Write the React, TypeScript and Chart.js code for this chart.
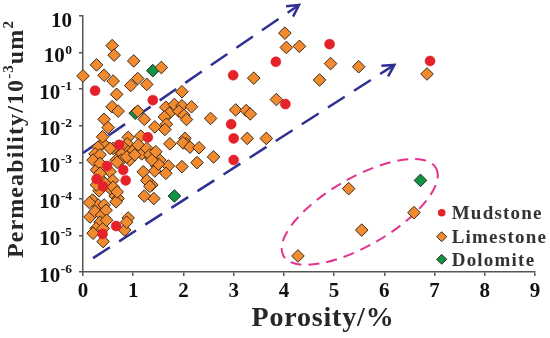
import React, { useEffect, useRef } from 'react';
import { Chart, registerables } from 'chart.js';
Chart.register(...registerables);

// ---------- data ----------
const mudstoneX = [0.24, 0.72, 0.48, 0.27, 0.40, 0.80, 0.85, 0.66, 0.39, 1.39, 1.29, 2.99, 2.95, 3.00, 3.00, 3.84, 4.03, 4.91, 6.91];
const mudstoneY = [9.1e-2, 3.0e-3, 7.9e-4, 3.5e-4, 2.2e-4, 6.2e-4, 3.2e-4, 1.8e-5, 1.1e-5, 5.0e-2, 4.8e-3, 0.24, 1.1e-2, 4.5e-3, 1.15e-3, 0.56, 3.9e-2, 1.7, 0.59];

const dolomiteX = [1.04, 1.39, 1.82, 6.72];
const dolomiteY = [2.2e-2, 0.32, 1.2e-4, 3.2e-4];

const limestoneX = [
  0.00, 0.58, 0.62, 0.27, 0.42, 0.60, 0.67, 0.58, 0.70, 0.42,
  0.50, 1.01, 1.56, 1.09, 0.95, 1.27, 1.97, 1.65, 1.82, 1.97,
  2.16, 1.72, 1.91, 2.01, 1.62, 2.06, 1.66, 1.22, 1.43, 1.63,
  2.54, 3.04, 1.15, 0.90, 2.03, 1.09, 1.73, 2.06, 4.02, 4.05,
  4.31, 3.40, 3.85, 4.93, 4.71, 5.49, 3.25, 3.33, 3.27, 3.65,
  6.85, 1.99, 2.13, 2.31, 2.60, 2.27, 1.97, 1.70, 1.65, 1.47,
  1.43, 1.35, 1.37, 1.53, 1.50, 1.41, 5.29, 6.59, 5.55, 4.28,
  0.40, 0.30, 0.24, 0.34, 0.88, 0.80, 0.90, 0.77, 0.60, 0.66,
  0.76, 0.93, 1.00, 1.10, 1.17, 1.27, 1.33, 1.37, 1.45, 1.20,
  1.27, 1.33, 1.22, 0.20, 0.27, 0.34, 0.54, 0.59, 0.34, 0.44,
  0.57, 0.64, 0.70, 0.66, 0.19, 0.30, 0.42, 0.14, 0.24, 0.37,
  0.46, 0.34, 0.26, 0.20, 0.40, 0.47, 0.90, 0.83, 0.40, 0.13,
  0.32, 0.27, 0.34, 0.60, 0.68, 0.39, 0.54, 0.68, 0.87, 1.03,
  0.87,
];
const limestoneY = [
  0.23, 1.55, 0.85, 0.46, 0.24, 0.166, 0.072, 0.033, 0.025, 0.015,
  0.0089, 0.59, 0.39, 0.195, 0.126, 0.135, 0.085, 0.032, 0.038, 0.035,
  0.033, 0.022, 0.025, 0.0195, 0.0174, 0.0148, 0.011, 0.015, 0.0093, 0.0079,
  0.0158, 0.027, 0.0052, 0.0048, 0.0045, 0.025, 0.0032, 0.0032, 3.4, 1.38,
  1.48, 0.20, 0.052, 0.50, 0.178, 0.41, 0.026, 0.021, 0.0045, 0.0045,
  0.26, 0.0034, 0.0026, 0.0025, 0.0014, 0.00098, 0.00076, 0.00079, 0.0005, 0.00079,
  0.00058, 0.0013, 0.00024, 0.00115, 0.00089, 0.000102, 1.9e-4, 4.2e-5, 1.4e-5, 2.75e-6,
  0.0033, 0.0026, 0.0017, 0.0016, 0.0032, 0.0026, 0.00195, 0.0017, 0.0024, 0.00115,
  0.00115, 0.00115, 0.0021, 0.003, 0.0017, 0.0024, 0.0016, 0.00115, 0.00195, 0.00055,
  0.00032, 0.00022, 0.00012, 0.00115, 0.00062, 0.00093, 0.00055, 0.00032, 0.00036, 0.00026,
  0.000174, 0.00012, 0.000102, 8.3e-5, 9.3e-5, 6.8e-5, 6.8e-5, 3.2e-5, 4.5e-5, 3.6e-5,
  4.9e-5, 2.3e-5, 1.55e-5, 1.15e-5, 1.55e-5, 2.6e-5, 3.0e-5, 1.4e-5, 6.8e-6, 7.9e-5,
  1.66e-4, 2.4e-4, 5.0e-4, 2.1e-4, 1.55e-4, 0.005, 0.0024, 0.001, 0.0014, 0.0016,
  2.3e-5,
];

const xTickValues = [0, 1, 2, 3, 4, 5, 6, 7, 8, 9];
const yTickExponents = [-6, -5, -4, -3, -2, -1, 0, 1];
const legendLabels = ['Mudstone', 'Limestone', 'Dolomite'];
const xTitle = 'Porosity/%';
const yTitleRuns: [string, boolean][] = [['Permeability/10', false], ['-3', true], ['um', false], ['2', true]];

// trend arrows (start, end) in data units
const upperTrendX = [0.0, 4.3];
const upperTrendY = [1.8e-3, 20];
const lowerTrendX = [0.2, 6.2];
const lowerTrendY = [2.4e-6, 0.46];
// highlighted group ellipse centre in data units
const ellipseCenterX = 5.51;
const ellipseCenterY = 4.4e-5;

// ---------- styles ----------
const SERIF = '"Liberation Serif", "Times New Roman", serif';
const RED = '#E5222A';
const ORANGE = '#F28B2F';
const GREEN = '#119447';
const NAVY = '#2E3192';
const MAGENTA = '#E2348C';
const AXIS = '#555555';

function drawDiamond(ctx: CanvasRenderingContext2D, x: number, y: number, r: number, fill: string) {
  ctx.beginPath();
  ctx.moveTo(x, y - r);
  ctx.lineTo(x + r, y);
  ctx.lineTo(x, y + r);
  ctx.lineTo(x - r, y);
  ctx.closePath();
  ctx.fillStyle = fill;
  ctx.fill();
  ctx.lineWidth = 1;
  ctx.strokeStyle = '#3a2a1a';
  ctx.stroke();
}

const annotations = {
  id: 'annotations',
  beforeDatasetsDraw(chart: any) {
    const { ctx } = chart;
    const xs = chart.scales.x;
    const ys = chart.scales.y;
    ctx.save();
    const arrow = (ax: number[], ay: number[]) => {
      const x0 = xs.getPixelForValue(ax[0]);
      const y0 = ys.getPixelForValue(ay[0]);
      const x1 = xs.getPixelForValue(ax[1]);
      const y1 = ys.getPixelForValue(ay[1]);
      ctx.strokeStyle = NAVY;
      ctx.lineWidth = 2.5;
      ctx.lineCap = 'butt';
      ctx.setLineDash([20, 11]);
      ctx.beginPath();
      ctx.moveTo(x0, y0);
      ctx.lineTo(x1, y1);
      ctx.stroke();
      ctx.setLineDash([]);
      const ang = Math.atan2(y1 - y0, x1 - x0);
      const L = 13;
      const spread = 0.5;
      ctx.beginPath();
      ctx.moveTo(x1 - L * Math.cos(ang - spread), y1 - L * Math.sin(ang - spread));
      ctx.lineTo(x1, y1);
      ctx.lineTo(x1 - L * Math.cos(ang + spread), y1 - L * Math.sin(ang + spread));
      ctx.stroke();
    };
    arrow(upperTrendX, upperTrendY);
    arrow(lowerTrendX, lowerTrendY);

    const cx = xs.getPixelForValue(ellipseCenterX);
    const cy = ys.getPixelForValue(ellipseCenterY);
    ctx.strokeStyle = MAGENTA;
    ctx.lineWidth = 2;
    ctx.setLineDash([11, 7]);
    ctx.beginPath();
    ctx.ellipse(cx, cy, 88, 34, -Math.PI / 6, 0, Math.PI * 2);
    ctx.stroke();
    ctx.restore();
  },
  afterDraw(chart: any) {
    const { ctx, chartArea } = chart;
    const ys = chart.scales.y;
    ctx.save();
    ctx.textBaseline = 'alphabetic';
    ctx.textAlign = 'left';
    ctx.fillStyle = '#111';
    const baseFont = `bold 21px ${SERIF}`;
    const supFont = `bold 13.5px ${SERIF}`;
    const right = chartArea.left - 11;
    for (const e of yTickExponents) {
      const py = ys.getPixelForValue(Math.pow(10, e));
      ctx.font = baseFont;
      const wb = ctx.measureText('10').width;
      if (e === 1) {
        ctx.fillText('10', right - wb, py + 10.5);
      } else {
        const sup = e === 0 ? '0' : '-' + String(-e);
        ctx.font = supFont;
        const ws = ctx.measureText(sup).width;
        const bx = right - ws - wb - 0.5;
        ctx.font = baseFont;
        ctx.fillText('10', bx, py + 9.5);
        ctx.font = supFont;
        ctx.fillText(sup, bx + wb + 0.5, py + 1);
      }
    }

    // x title
    ctx.fillStyle = '#2a2626';
    ctx.font = `bold 28px ${SERIF}`;
    (ctx as any).letterSpacing = '0px';
    const w0 = ctx.measureText(xTitle).width;
    const xTarget = 143;
    (ctx as any).letterSpacing = ((xTarget - w0) / xTitle.length) + 'px';
    const xc = (chartArea.left + chartArea.right) / 2 + 14;
    ctx.fillText(xTitle, xc - xTarget / 2, 326);

    // y title (rotated)
    const mainF = `bold 24px ${SERIF}`;
    const supF = `bold 15px ${SERIF}`;
    let total = 0;
    let chars = 0;
    (ctx as any).letterSpacing = '0px';
    for (const [t, s] of yTitleRuns) {
      ctx.font = s ? supF : mainF;
      total += ctx.measureText(t).width;
      chars += t.length;
    }
    const yTarget = 238;
    const sp = (yTarget - total) / chars;
    ctx.save();
    ctx.translate(23, 139);
    ctx.rotate(-Math.PI / 2);
    let cxp = -yTarget / 2;
    for (const [t, s] of yTitleRuns) {
      ctx.font = s ? supF : mainF;
      (ctx as any).letterSpacing = sp + 'px';
      ctx.fillText(t, cxp, s ? -10 : 0);
      cxp += ctx.measureText(t).width;
    }
    ctx.restore();

    // legend
    const lx = 441.7;
    const rows = [212.7, 236.7, 259.3];
    const legFont = `bold 19px ${SERIF}`;
    ctx.font = legFont;
    (ctx as any).letterSpacing = '0px';
    const mw = ctx.measureText(legendLabels[0]).width;
    const lsp = (91 - mw) / legendLabels[0].length;
    legendLabels.forEach((lab, i) => {
      const cy = rows[i];
      if (i === 0) {
        ctx.beginPath();
        ctx.arc(lx, cy, 3.8, 0, Math.PI * 2);
        ctx.fillStyle = RED;
        ctx.fill();
      } else {
        drawDiamond(ctx, lx, cy, 5, i === 1 ? ORANGE : GREEN);
      }
      ctx.font = legFont;
      (ctx as any).letterSpacing = lsp + 'px';
      ctx.fillStyle = '#333';
      ctx.fillText(lab, 451.7, cy + 6.3);
    });
    ctx.restore();
  },
};

export default function App() {
  const ref = useRef<HTMLCanvasElement | null>(null);
  useEffect(() => {
    if (!ref.current) return;
    const toPts = (xs: number[], ys: number[]) => xs.map((x, i) => ({ x, y: ys[i] }));
    const chart = new Chart(ref.current, {
      type: 'scatter',
      data: {
        datasets: [
          {
            label: 'Mudstone',
            data: toPts(mudstoneX, mudstoneY),
            pointStyle: 'circle',
            pointRadius: 5,
            backgroundColor: RED,
            borderColor: '#d41c24',
            borderWidth: 0.5,
            clip: false,
          },
          {
            label: 'Limestone',
            data: toPts(limestoneX, limestoneY),
            pointStyle: 'rectRot',
            pointRadius: 6.3,
            backgroundColor: ORANGE,
            borderColor: '#3a2a1a',
            borderWidth: 1,
            clip: false,
          },
          {
            label: 'Dolomite',
            data: toPts(dolomiteX, dolomiteY),
            pointStyle: 'rectRot',
            pointRadius: 6.3,
            backgroundColor: GREEN,
            borderColor: '#1e2a20',
            borderWidth: 1,
            clip: false,
          },
        ] as any,
      },
      options: {
        responsive: false,
        animation: false,
        events: [],
        layout: { padding: { top: 16, right: 15, left: 0, bottom: 0 } },
        plugins: { legend: { display: false }, tooltip: { enabled: false } },
        scales: {
          x: {
            type: 'linear',
            min: 0,
            max: 9,
            afterBuildTicks: (s: any) => {
              s.ticks = xTickValues.map((v) => ({ value: v }));
            },
            ticks: {
              autoSkip: false,
              maxRotation: 0,
              padding: 3,
              color: '#111',
              font: { family: SERIF, size: 21, weight: 'bold' },
            },
            grid: { drawOnChartArea: false, drawTicks: true, tickLength: 4, color: AXIS, lineWidth: 1.5 },
            border: { color: AXIS, width: 1.5 },
            afterFit: (s: any) => {
              s.height = 66;
            },
          },
          y: {
            type: 'logarithmic',
            min: 1e-6,
            max: 10,
            afterBuildTicks: (s: any) => {
              s.ticks = yTickExponents.map((e) => ({ value: Math.pow(10, e) }));
            },
            ticks: { callback: () => '' },
            grid: { drawOnChartArea: false, drawTicks: true, tickLength: 4, color: AXIS, lineWidth: 1.5 },
            border: { color: AXIS, width: 1.5 },
            afterFit: (s: any) => {
              s.width = 83;
            },
          },
        } as any,
      },
      plugins: [annotations],
    });
    return () => chart.destroy();
  }, []);
  return (
    <div style={{ position: 'fixed', left: 0, top: 0, width: 550, height: 338, background: '#fff' }}>
      <canvas ref={ref} width={550} height={338} style={{ display: 'block' }} />
    </div>
  );
}
